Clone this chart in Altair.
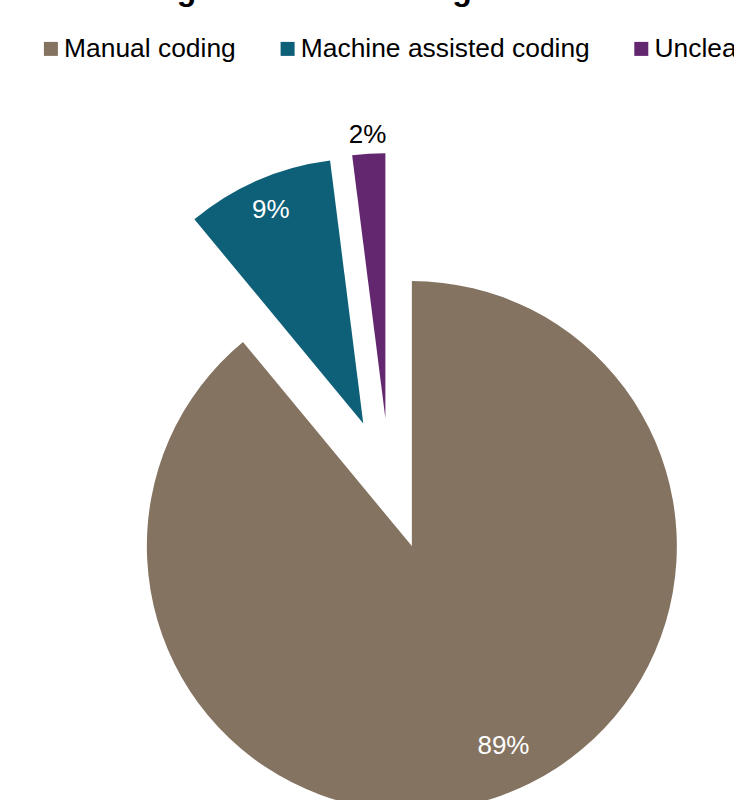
import altair as alt
import pandas as pd

# ---- data ----
categories = ["Manual coding", "Machine assisted coding", "Unclear"]
shares = [89, 9, 2]
labels = ["89%", "9%", "2%"]
title_text = "Coding method in coding studies"

# ---- styles ----
colors = ["#857361", "#0E5F78", "#632770"]
label_colors = ["white", "white", "black"]
label_radius = [220, 233, 284]
label_angle_shift = [-4.8, 0, 0]  # degrees
CX, CY = 389.5, 484.0
R = 265
EXPLODE = 66
FONT = "Liberation Sans"

df = pd.DataFrame({
    "category": categories,
    "share": shares,
    "label": labels,
    "order": list(range(len(categories))),
    "lcolor": label_colors,
    "lr": label_radius,
    "lshift": label_angle_shift,
})

base = (
    alt.Chart(df)
    .transform_joinaggregate(total="sum(share)")
    .transform_window(cum="sum(share)", sort=[alt.SortField("order")], frame=[None, 0])
    .transform_calculate(
        t0="2*PI*(datum.cum - datum.share)/datum.total",
        t1="2*PI*datum.cum/datum.total",
        tm="(datum.t0 + datum.t1)/2",
        cx=f"{CX} + {EXPLODE}*sin(datum.tm)",
        cy=f"{CY} - {EXPLODE}*cos(datum.tm)",
        la="datum.tm + datum.lshift*PI/180",
        lx="datum.cx + datum.lr*sin(datum.la)",
        ly="datum.cy - datum.lr*cos(datum.la)",
    )
)

arcs = base.mark_arc(radius=R, stroke=None).encode(
    theta=alt.Theta("t0:Q", scale=None, stack=False),
    theta2="t1:Q",
    x=alt.X("cx:Q", scale=None, axis=None),
    y=alt.Y("cy:Q", scale=None, axis=None),
    color=alt.Color(
        "category:N",
        scale=alt.Scale(domain=categories, range=colors),
        legend=alt.Legend(
            orient="none",
            legendX=37.7,
            legendY=35.5,
            direction="horizontal",
            title=None,
            symbolType="square",
            symbolSize=196,
            symbolStrokeWidth=0,
            symbolOpacity=1,
            labelFont=FONT,
            labelFontSize=26.4,
            labelColor="black",
            labelLimit=600,
            labelOffset=0,
            columnPadding=37.7,
            padding=0,
        ),
    ),
)

text = base.mark_text(font=FONT, fontSize=26, align="center", baseline="middle").encode(
    x=alt.X("lx:Q", scale=None, axis=None),
    y=alt.Y("ly:Q", scale=None, axis=None),
    text="label:N",
    fill=alt.Fill("lcolor:N", scale=None, legend=None),
)

title = alt.Chart(pd.DataFrame({"title": [title_text]})).mark_text(
    font=FONT, fontSize=32, fontWeight="bold", align="center", baseline="alphabetic", color="black"
).encode(
    text="title:N",
    x=alt.value(339.5),
    y=alt.value(-0.5),
)

chart = (
    alt.layer(arcs, text, title)
    .properties(width=734, height=800, autosize=alt.AutoSizeParams(type="none"), padding=0)
    .configure_view(stroke=None)
)

chart.save("out.html", embed_options={"renderer": "svg", "actions": False})
